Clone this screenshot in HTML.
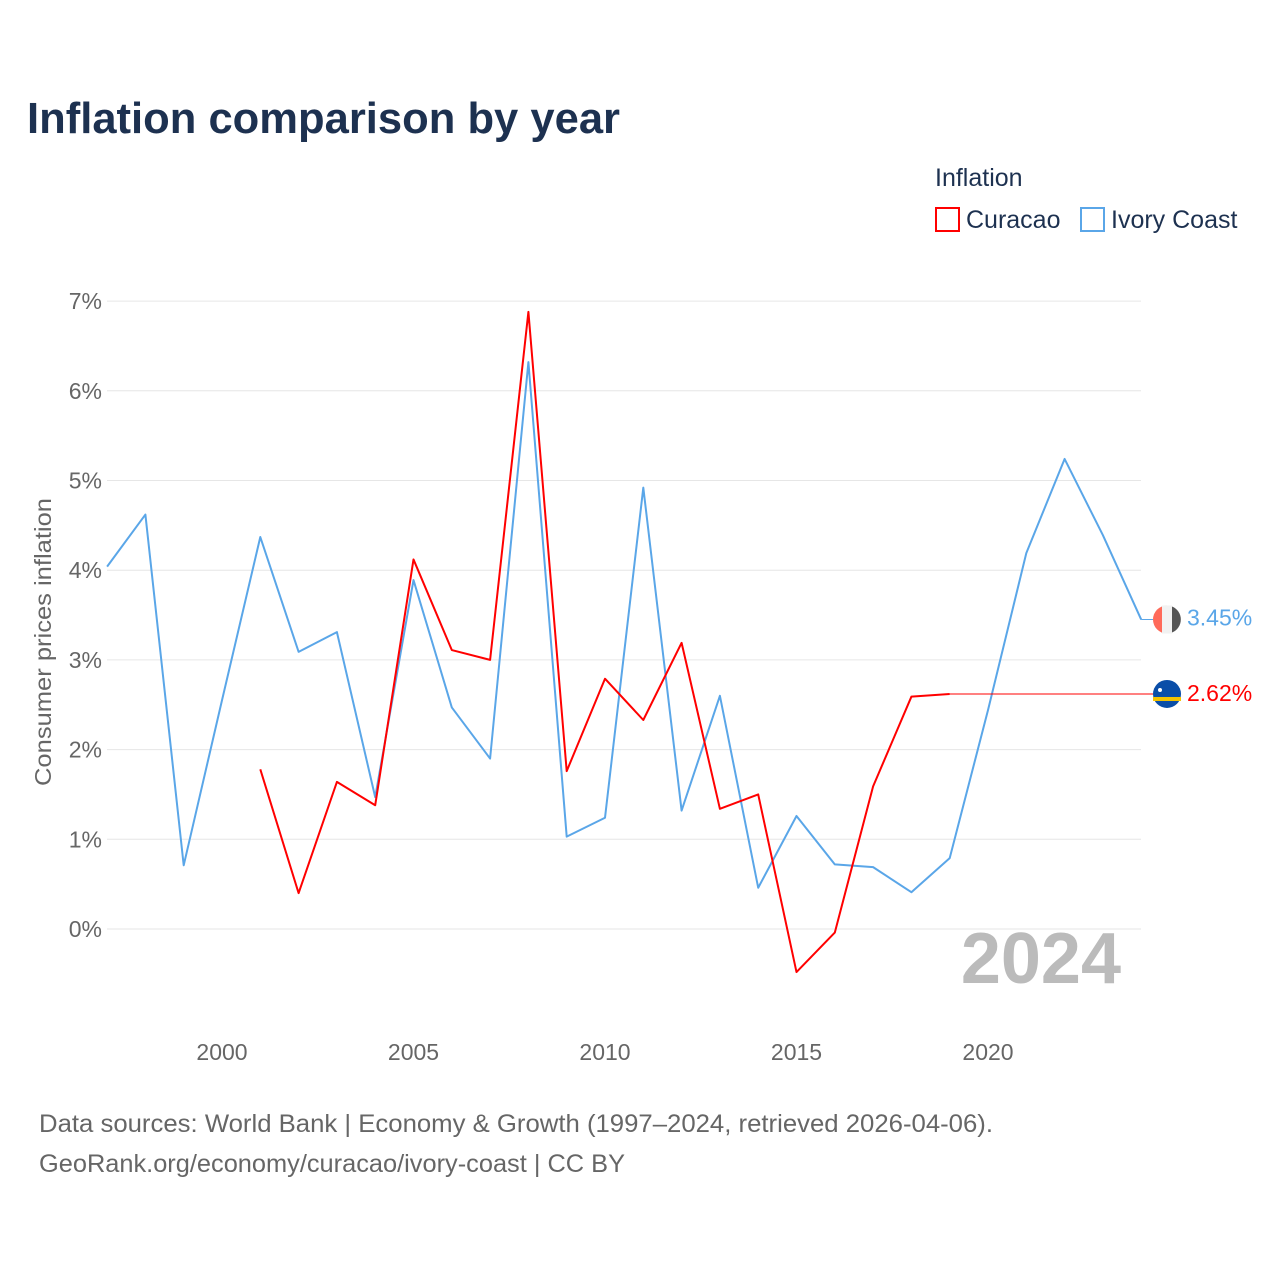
<!DOCTYPE html>
<html><head><meta charset="utf-8">
<style>
body{margin:0;background:#fff;font-family:"Liberation Sans",sans-serif;}
svg text{font-family:"Liberation Sans",sans-serif;}
</style></head>
<body>
<svg id="chart" width="1280" height="1280" viewBox="0 0 1280 1280" xmlns="http://www.w3.org/2000/svg">
<text x="27" y="133" font-size="44" font-weight="bold" fill="#1d3150" textLength="593" lengthAdjust="spacingAndGlyphs">Inflation comparison by year</text>
<text x="935" y="186" font-size="25" fill="#1d3150">Inflation</text>
<g>
<rect x="936" y="208" width="23" height="23" fill="none" stroke="#ff0000" stroke-width="2"/>
<text x="966" y="228" font-size="25" fill="#1d3150">Curacao</text></g>
<g>
<rect x="1081" y="208" width="23" height="23" fill="none" stroke="#5aa6e8" stroke-width="2"/>
<text x="1111" y="228" font-size="25" fill="#1d3150">Ivory Coast</text></g>
<g id="grid"></g>
<g id="xticks"></g>
<text transform="translate(51,642) rotate(-90)" text-anchor="middle" font-size="23" fill="#666" textLength="288" lengthAdjust="spacingAndGlyphs">Consumer prices inflation</text>
<text x="1121" y="983" text-anchor="end" font-size="72" font-weight="bold" fill="#bbb">2024</text>
<g id="series"></g>
<text x="39" y="1132" font-size="25" fill="#666" textLength="954" lengthAdjust="spacingAndGlyphs">Data sources: World Bank | Economy &amp; Growth (1997–2024, retrieved 2026-04-06).</text>
<text x="39" y="1172" font-size="25" fill="#666" textLength="586" lengthAdjust="spacingAndGlyphs">GeoRank.org/economy/curacao/ivory-coast | CC BY</text>
</svg>
<script>
const years=[1997,1998,1999,2000,2001,2002,2003,2004,2005,2006,2007,2008,2009,2010,2011,2012,2013,2014,2015,2016,2017,2018,2019,2020,2021,2022,2023,2024];
const ivoryCoast=[4.04,4.62,0.71,2.55,4.37,3.09,3.31,1.47,3.89,2.47,1.9,6.32,1.03,1.24,4.92,1.32,2.6,0.46,1.26,0.72,0.69,0.41,0.79,2.44,4.19,5.24,4.39,3.45];
const curacao=[null,null,null,null,1.78,0.40,1.64,1.38,4.12,3.11,3.0,6.88,1.76,2.79,2.33,3.19,1.34,1.5,-0.48,-0.04,1.59,2.59,2.62,null,null,null,null,null];
const yTicks=[0,1,2,3,4,5,6,7];
const xTicks=[2000,2005,2010,2015,2020];
const NS="http://www.w3.org/2000/svg";
const x=v=>222+(v-2000)*38.3;
const y=v=>929-v*89.7;
function mk(tag,attrs,parent){const e=document.createElementNS(NS,tag);for(const k in attrs)e.setAttribute(k,attrs[k]);parent.appendChild(e);return e;}
const grid=document.getElementById('grid');
yTicks.forEach(t=>{
 const l=mk('line',{x1:107,x2:1141,y1:y(t),y2:y(t),stroke:'#e6e6e6','stroke-width':1},grid);
 
 
 const tx=mk('text',{x:102,y:y(t)+8,'text-anchor':'end','font-size':23,fill:'#666'},grid);
 tx.textContent=t+'%';
 
 
});
const xt=document.getElementById('xticks');
xTicks.forEach(t=>{
 const tx=mk('text',{x:x(t),y:1060,'text-anchor':'middle','font-size':23,fill:'#666'},xt);
 tx.textContent=t;
 
 
});
const s=document.getElementById('series');
function line(vals,color,name){
 let d='',pen=false,last=null;
 vals.forEach((v,i)=>{if(v==null){pen=false;return;}d+=(pen?'L':'M')+x(years[i])+','+y(v);pen=true;last=v;});
 const p=mk('path',{d:d,fill:'none',stroke:color,'stroke-width':2,'stroke-linejoin':'round'},s);
 
 
 return last;
}
const ivLast=line(ivoryCoast,'#5aa6e8','ivory-coast-line');
const cuLast=line(curacao,'#ff0000','curacao-line');
let lastIdx=0;curacao.forEach((v,i)=>{if(v!=null)lastIdx=i;});
const cl=mk('line',{x1:x(years[lastIdx]),x2:1160,y1:y(cuLast),y2:y(cuLast),stroke:'#ff0000','stroke-width':1},s);


const il=mk('line',{x1:x(2024),x2:1160,y1:y(ivLast),y2:y(ivLast),stroke:'#5aa6e8','stroke-width':1},s);


const f1=mk('g',{},s);


const cy1=y(ivLast);
mk('circle',{cx:1167,cy:cy1,r:14,fill:'#eee'},f1);
mk('path',{d:`M1167,${cy1-14}A14,14 0 0 0 1167,${cy1+14}Z`,fill:'#ff6a5a'},f1);
mk('rect',{x:1162,y:cy1-14,width:10,height:28,fill:'#f2f2f2'},f1);
mk('path',{d:`M1172,${cy1-13}A14,14 0 0 1 1172,${cy1+13}Z`,fill:'#555'},f1);
const f2=mk('g',{},s);


const cy2=y(cuLast);
mk('circle',{cx:1167,cy:cy2,r:14,fill:'#0a4ea8'},f2);
mk('rect',{x:1153,y:cy2+3,width:28,height:4,fill:'#f5c400'},f2);
mk('circle',{cx:1160,cy:cy2-4,r:2,fill:'#fff'},f2);
const t1=mk('text',{x:1187,y:cy1+6,'font-size':23,fill:'#5aa6e8'},s);
t1.textContent=ivLast.toFixed(2)+'%';


const t2=mk('text',{x:1187,y:cy2+7,'font-size':23,fill:'#ff0000'},s);
t2.textContent=cuLast.toFixed(2)+'%';


</script>
</body></html>
